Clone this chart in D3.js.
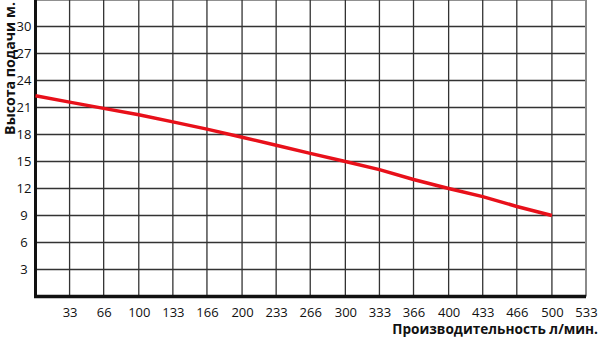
<!DOCTYPE html>
<html><head><meta charset="utf-8">
<script src="https://cdn.jsdelivr.net/npm/d3@7"></script>
<style>
html,body{margin:0;padding:0;background:#fff;}
svg{display:block;font-family:"Open Sans","Noto Sans",sans-serif;}
</style></head>
<body><svg id="chart" width="600" height="341"></svg>
<script>
// Data
const flowValues = [0, 33, 66, 100, 133, 166, 200, 233, 266, 300, 333, 366, 400, 433, 466, 500];
const headValues = [22.3, 21.6, 20.9, 20.2, 19.4, 18.6, 17.7, 16.8, 15.9, 15.0, 14.1, 13.0, 12.0, 11.1, 10.0, 9.0];
const xTicks = [33, 66, 100, 133, 166, 200, 233, 266, 300, 333, 366, 400, 433, 466, 500, 533];
const yTicks = [3, 6, 9, 12, 15, 18, 21, 24, 27, 30];
const yGrid = [3, 6, 9, 12, 15, 18, 21, 24, 27, 30, 33];
const xTitle = "Производительность л/мин.";
const yTitle = "Высота подачи м.";

const svg = d3.select("#chart");
const x = d3.scaleLinear().domain([0, 533]).range([35.5, 586]);
const y = d3.scaleLinear().domain([0, 33]).range([296.5, -0.5]);

// grid
const g = svg.append("g");
g.selectAll("line.h").data(yGrid).join("line")
  .attr("x1", x(0)).attr("x2", x(533))
  .attr("y1", d => y(d)).attr("y2", d => y(d))
  .attr("stroke", d => d === 33 ? "#222" : "#333").attr("stroke-width", d => d === 33 ? 2 : 1.3);
g.selectAll("line.v").data(xTicks).join("line")
  .attr("x1", d => x(d)).attr("x2", d => x(d))
  .attr("y1", y(33)).attr("y2", y(0))
  .attr("stroke", d => d === 533 ? "#8a8a8a" : "#333").attr("stroke-width", d => d === 533 ? 2 : 1.3);

// axes
const xAxis = d3.axisBottom(x).tickValues(xTicks).tickSize(0).tickPadding(11).tickFormat(d3.format("d"));
const xa = svg.append("g").attr("transform", `translate(0,${y(0)})`).call(xAxis);
xa.select(".domain").remove();
xa.selectAll("text").attr("font-size", 13).attr("fill", "#111").attr("font-family", "'Open Sans',sans-serif");

const yAxis = d3.axisLeft(y).tickValues(yTicks).tickSize(0).tickPadding(0);
const ya = svg.append("g").attr("transform", `translate(24,0)`).call(yAxis);
ya.select(".domain").remove();
ya.selectAll("text").attr("font-size", 13).attr("fill", "#111").attr("text-anchor", "middle").attr("font-family", "'Open Sans',sans-serif");

// thick axis lines
svg.append("line").attr("x1", x(0)).attr("x2", x(0)).attr("y1", y(33)).attr("y2", y(0) + 1.5)
  .attr("stroke", "#111").attr("stroke-width", 3);
svg.append("line").attr("x1", x(0) - 1.5).attr("x2", x(533)).attr("y1", y(0)).attr("y2", y(0))
  .attr("stroke", "#111").attr("stroke-width", 3.5);

// series
const line = d3.line().x((d, i) => x(flowValues[i])).y(d => y(d));
svg.append("path").datum(headValues).attr("d", line)
  .attr("fill", "none").attr("stroke", "#e8101a").attr("stroke-width", 3.5);

// titles
const xt = svg.append("text").attr("x", 598).attr("y", 334).attr("text-anchor", "end")
  .attr("font-size", 14).attr("font-weight", 700).attr("fill", "#111").text(xTitle);
const xl = xt.node().getComputedTextLength();
xt.attr("font-size", 14 * 206 / xl);
const yt = svg.append("text").attr("transform", "translate(15,2) rotate(-90)").attr("text-anchor", "end")
  .attr("font-size", 14).attr("font-weight", 700).attr("fill", "#111").text(yTitle);
const yl = yt.node().getComputedTextLength();
yt.attr("font-size", 14 * 133 / yl);
</script></body></html>
